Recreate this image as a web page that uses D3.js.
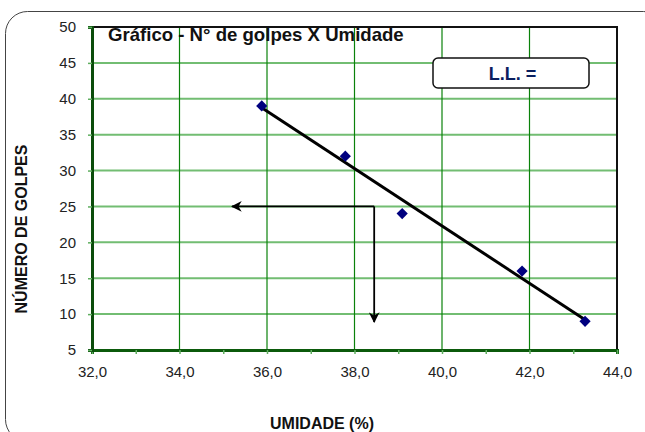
<!DOCTYPE html>
<html><head><meta charset="utf-8">
<script src="https://cdn.jsdelivr.net/npm/d3@7/dist/d3.min.js"></script>
<style>body{margin:0;background:#fff}svg{display:block}text{font-family:Arial,"Liberation Sans",sans-serif}</style>
</head><body><svg id="c" width="645" height="432"></svg>
<script>
const umidade = [35.88, 37.79, 39.09, 41.83, 43.27];
const golpes  = [39, 32, 24, 16, 9];
const xTicks = [32, 34, 36, 38, 40, 42, 44];
const yTicks = [5, 10, 15, 20, 25, 30, 35, 40, 45, 50];
const arrowPath = [[38.45, 25], [35.2, 25]];
const arrowDown = [[38.45, 25], [38.45, 8.9]];
const title = "Gráfico - N° de golpes X Umidade";
const llLabel = "L.L. =";

const svg = d3.select("#c");
const x = d3.scaleLinear().domain([32, 44]).range([92, 617]);
const y = d3.scaleLinear().domain([5, 50]).range([350, 27]);

// outer rounded border
svg.append("rect").attr("x", 5.5).attr("y", 11.5).attr("width", 660).attr("height", 430)
  .attr("rx", 22).attr("fill", "none").attr("stroke", "#444").attr("stroke-width", 1);

const defs = svg.append("defs");
defs.append("marker").attr("id", "ah").attr("viewBox", "0 0 10 10").attr("refX", 9).attr("refY", 5)
  .attr("markerWidth", 6).attr("markerHeight", 6).attr("markerUnits", "strokeWidth").attr("orient", "auto")
  .append("path").attr("d", "M0,0 L10,5 L0,10 L3,5 Z").attr("fill", "#000");

// horizontal grid
svg.append("g").selectAll("line").data(yTicks.filter(d => d > 5)).join("line")
  .attr("x1", x(32)).attr("x2", x(44)).attr("y1", d => y(d)).attr("y2", d => y(d))
  .attr("stroke", "#72bd72").attr("stroke-width", 2);
// vertical grid
svg.append("g").selectAll("line").data(xTicks.filter(d => d > 32 && d < 44)).join("line")
  .attr("y1", y(5)).attr("y2", y(50)).attr("x1", d => x(d)).attr("x2", d => x(d))
  .attr("stroke", "#0a820a").attr("stroke-width", 1.2);

// top & right border
svg.append("path").attr("d", `M${x(32)},${y(50)}H${x(44)}V${y(5)}`)
  .attr("fill", "none").attr("stroke", "#111").attr("stroke-width", 2);

// axes
const xAxis = d3.axisBottom(x).tickValues(d3.range(32, 44.1, 1)).tickSize(4)
  .tickFormat(d => d % 2 === 0 ? d3.format(".1f")(d).replace(".", ",") : "");
const gx = svg.append("g").attr("transform", `translate(0,${y(5)})`).call(xAxis);
gx.select(".domain").attr("stroke", "#0b5a0b").attr("stroke-width", 3);
gx.selectAll(".tick line").attr("stroke", "#5fae5f").attr("stroke-width", 1.5);
gx.selectAll(".tick text").attr("font-size", 15).attr("fill", "#222").attr("y", 16).attr("dy", "0.71em");

const yAxis = d3.axisLeft(y).tickValues(yTicks).tickSize(4).tickFormat(d3.format("d"));
const gy = svg.append("g").attr("transform", `translate(${x(32)},0)`).call(yAxis);
gy.select(".domain").attr("stroke", "#0b4d0b").attr("stroke-width", 3);
gy.selectAll(".tick line").attr("stroke", "#5fae5f").attr("stroke-width", 1.5);
gy.selectAll(".tick text").attr("font-size", 15).attr("fill", "#222").attr("x", -16);

// trendline (least squares)
const mx = d3.mean(umidade), my = d3.mean(golpes);
const sxy = d3.sum(umidade, (v, i) => (v - mx) * (golpes[i] - my));
const sxx = d3.sum(umidade, v => (v - mx) ** 2);
const b = sxy / sxx, a = my - b * mx;
const ext = d3.extent(umidade);
svg.append("line").attr("x1", x(ext[0])).attr("y1", y(a + b * ext[0]))
  .attr("x2", x(ext[1])).attr("y2", y(a + b * ext[1]))
  .attr("stroke", "#000").attr("stroke-width", 3);

// markers
svg.append("g").selectAll("path").data(umidade).join("path")
  .attr("transform", (d, i) => `translate(${x(d)},${y(golpes[i])})`)
  .attr("d", d3.symbol(d3.symbolDiamond2, 80)())
  .attr("fill", "#00007f");

// arrows
const line = d3.line().x(d => x(d[0])).y(d => y(d[1]));
svg.append("path").attr("d", line(arrowPath)).attr("stroke", "#000").attr("stroke-width", 1.8)
  .attr("fill", "none").attr("marker-end", "url(#ah)");
svg.append("path").attr("d", line(arrowDown)).attr("stroke", "#000").attr("stroke-width", 1.8)
  .attr("fill", "none").attr("marker-end", "url(#ah)");

// title
svg.append("text").attr("x", 108).attr("y", 40.5).attr("font-size", 18.6).attr("font-weight", "bold")
  .attr("fill", "#111").text(title);

// L.L. box
svg.append("rect").attr("x", 433).attr("y", 58).attr("width", 156).attr("height", 30).attr("rx", 5)
  .attr("fill", "#fff").attr("stroke", "#111").attr("stroke-width", 1.5);
svg.append("text").attr("x", 512.5).attr("y", 80).attr("text-anchor", "middle").attr("font-size", 18)
  .attr("font-weight", "bold").attr("fill", "#0a2060").text(llLabel);

// axis titles
svg.append("text").attr("transform", "translate(27,229) rotate(-90)").attr("text-anchor", "middle")
  .attr("font-size", 16).attr("font-weight", "bold").attr("fill", "#111").text("NÚMERO DE GOLPES");
svg.append("text").attr("x", 322).attr("y", 429).attr("text-anchor", "middle")
  .attr("font-size", 16).attr("font-weight", "bold").attr("fill", "#111").text("UMIDADE (%)");
</script></body></html>
